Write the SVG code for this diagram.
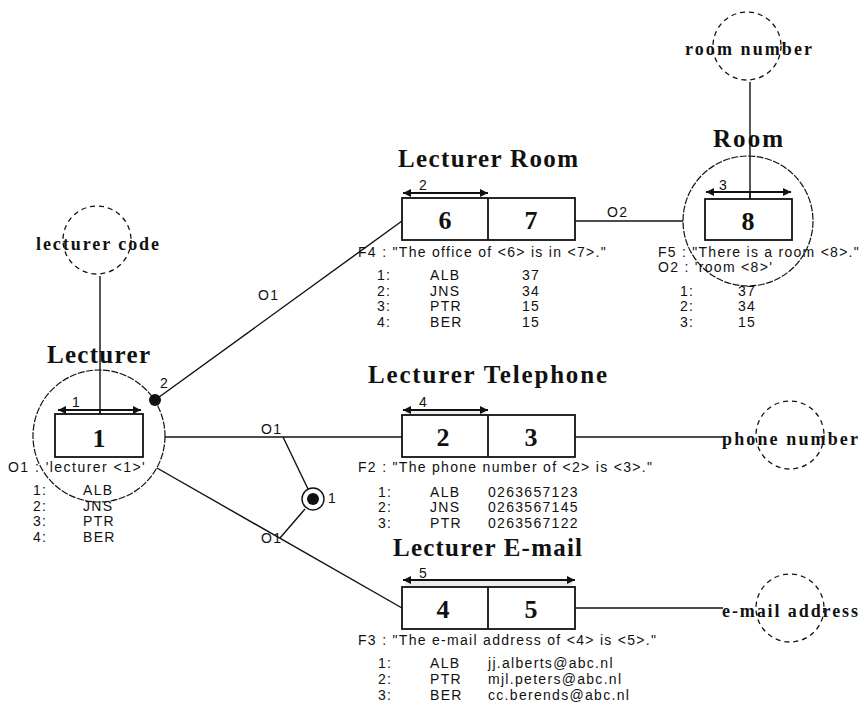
<svg xmlns="http://www.w3.org/2000/svg" width="863" height="705" viewBox="0 0 863 705">
<style>
.bg{fill:#ffffff}
.ln{stroke:#111;stroke-width:1.4;fill:none}
.box{fill:#fff;stroke:#111;stroke-width:1.8}
.obj{fill:none;stroke:#111;stroke-width:1.2;stroke-dasharray:7 1.5}
.val{fill:none;stroke:#111;stroke-width:1.3;stroke-dasharray:5 4}
.arr{stroke:#111;stroke-width:2;fill:none;marker-start:url(#ah);marker-end:url(#ah)}
.band{fill:#ececec}
.t{font-family:"Liberation Sans",Arial,sans-serif;font-size:14px;letter-spacing:1.3px;fill:#111}
.ttl{font-family:"Liberation Serif","Times New Roman",serif;font-size:25px;font-weight:bold;fill:#111}
.vl{font-family:"Liberation Serif","Times New Roman",serif;font-size:18px;font-weight:bold;fill:#111}
.num{font-family:"Liberation Serif","Times New Roman",serif;font-size:26px;font-weight:bold;fill:#111;text-anchor:middle}
</style>
<defs>
<marker id="ah" viewBox="0 0 8 8" refX="8" refY="4" markerWidth="8" markerHeight="8" markerUnits="userSpaceOnUse" orient="auto-start-reverse">
<path d="M0,0 L8,4 L0,8 z" fill="#111"/>
</marker>
</defs>
<rect class="bg" x="0" y="0" width="863" height="705"/>

<g id="connectors">
<line class="ln" x1="100" y1="276" x2="100" y2="414"/>
<line class="ln" x1="750" y1="82" x2="750" y2="199"/>
<line class="ln" x1="155" y1="400" x2="402" y2="221"/>
<line class="ln" x1="575" y1="221" x2="683" y2="221"/>
<line class="ln" x1="165" y1="437" x2="402" y2="437"/>
<line class="ln" x1="575" y1="437" x2="723" y2="437"/>
<line class="ln" x1="157" y1="468" x2="402" y2="608"/>
<line class="ln" x1="575" y1="608" x2="723" y2="608"/>
<line class="ln" x1="283" y1="437" x2="308" y2="489"/>
<line class="ln" x1="305" y1="509" x2="280" y2="538"/>
<text class="t" x="258" y="300">O1</text>
<text class="t" x="261" y="434">O1</text>
<text class="t" x="261" y="543">O1</text>
<text class="t" x="607" y="217">O2</text>
<circle cx="155" cy="400" r="6" fill="#111"/>
<text class="t" x="160" y="388">2</text>
<g id="uniq1">
<circle cx="313" cy="499" r="11" fill="#fff" stroke="#111" stroke-width="1.4"/>
<circle cx="313" cy="499" r="6" fill="#111"/>
<text class="t" x="328" y="503">1</text>
</g>
</g>

<g id="lecturer-code">
<circle class="val" cx="97" cy="240" r="34"/>
<text class="vl" x="36" y="250" textLength="123" lengthAdjust="spacing">lecturer code</text>
</g>

<g id="room-number">
<circle class="val" cx="747" cy="46" r="34"/>
<text class="vl" x="685" y="55" textLength="127" lengthAdjust="spacing">room number</text>
</g>

<g id="phone-number">
<circle class="val" cx="790" cy="435" r="34"/>
<text class="vl" x="722" y="445" textLength="136" lengthAdjust="spacing">phone number</text>
</g>

<g id="email-address">
<circle class="val" cx="790" cy="608" r="34"/>
<text class="vl" x="722" y="617" textLength="136" lengthAdjust="spacing">e-mail address</text>
</g>

<g id="lecturer">
<text class="ttl" x="47" y="363" textLength="103" lengthAdjust="spacing">Lecturer</text>
<circle class="obj" cx="99" cy="436" r="66"/>
<line class="arr" x1="58" y1="410" x2="141" y2="410"/>
<text class="t" x="72" y="407">1</text>
<rect class="box" x="55" y="414" width="88" height="43"/>
<line class="ln" x1="100" y1="410" x2="100" y2="414"/>
<text class="num" x="99" y="447">1</text>
<text class="t" x="8" y="472" textLength="138" lengthAdjust="spacing">O1 : 'lecturer &lt;1&gt;'</text>
<text class="t" x="33" y="495">1:</text><text class="t" x="83" y="495">ALB</text>
<text class="t" x="33" y="511">2:</text><text class="t" x="83" y="511">JNS</text>
<text class="t" x="33" y="526">3:</text><text class="t" x="83" y="526">PTR</text>
<text class="t" x="33" y="542">4:</text><text class="t" x="83" y="542">BER</text>
</g>

<g id="lecturer-room">
<text class="ttl" x="398" y="167" textLength="180" lengthAdjust="spacing">Lecturer Room</text>
<line class="arr" x1="403" y1="193" x2="488" y2="193"/>
<text class="t" x="419" y="190">2</text>
<rect class="box" x="402" y="198" width="173" height="42"/>
<line class="box" x1="488" y1="198" x2="488" y2="240"/>
<text class="num" x="445" y="229">6</text>
<text class="num" x="531" y="229">7</text>
<text class="t" x="358" y="257" textLength="249" lengthAdjust="spacing">F4 : "The office of &lt;6&gt; is in &lt;7&gt;."</text>
<text class="t" x="377" y="280">1:</text><text class="t" x="430" y="280">ALB</text><text class="t" x="522" y="280">37</text>
<text class="t" x="377" y="296">2:</text><text class="t" x="430" y="296">JNS</text><text class="t" x="522" y="296">34</text>
<text class="t" x="377" y="311">3:</text><text class="t" x="430" y="311">PTR</text><text class="t" x="522" y="311">15</text>
<text class="t" x="377" y="327">4:</text><text class="t" x="430" y="327">BER</text><text class="t" x="522" y="327">15</text>
</g>

<g id="room">
<text class="ttl" x="713" y="147" textLength="70" lengthAdjust="spacing">Room</text>
<circle class="obj" cx="748" cy="221" r="65"/>
<line class="arr" x1="706" y1="192" x2="791" y2="192"/>
<text class="t" x="719" y="190">3</text>
<rect class="box" x="705" y="199" width="87" height="41"/>
<line class="ln" x1="750" y1="192" x2="750" y2="199"/>
<text class="num" x="748" y="230">8</text>
<text class="t" x="658" y="257" textLength="202" lengthAdjust="spacing">F5 : "There is a room &lt;8&gt;."</text>
<text class="t" x="658" y="272">O2 : 'room &lt;8&gt;'</text>
<text class="t" x="680" y="296">1:</text><text class="t" x="738" y="296">37</text>
<text class="t" x="680" y="311">2:</text><text class="t" x="738" y="311">34</text>
<text class="t" x="680" y="327">3:</text><text class="t" x="738" y="327">15</text>
</g>

<g id="lecturer-telephone">
<text class="ttl" x="368" y="383" textLength="239" lengthAdjust="spacing">Lecturer Telephone</text>
<rect class="band" x="405" y="411" width="81" height="4"/>
<line class="arr" x1="403" y1="410" x2="488" y2="410"/>
<text class="t" x="419" y="407">4</text>
<rect class="box" x="402" y="415" width="173" height="42"/>
<line class="box" x1="488" y1="415" x2="488" y2="457"/>
<text class="num" x="443" y="446">2</text>
<text class="num" x="531" y="446">3</text>
<text class="t" x="358" y="472">F2 : "The phone number of &lt;2&gt; is &lt;3&gt;."</text>
<text class="t" x="378" y="497">1:</text><text class="t" x="430" y="497">ALB</text><text class="t" x="488" y="497">0263657123</text>
<text class="t" x="378" y="512">2:</text><text class="t" x="430" y="512">JNS</text><text class="t" x="488" y="512">0263567145</text>
<text class="t" x="378" y="528">3:</text><text class="t" x="430" y="528">PTR</text><text class="t" x="488" y="528">0263567122</text>
</g>

<g id="lecturer-email">
<text class="ttl" x="393" y="556" textLength="189" lengthAdjust="spacing">Lecturer E-mail</text>
<rect class="band" x="405" y="581" width="167" height="6"/>
<line class="arr" x1="403" y1="580" x2="575" y2="580"/>
<text class="t" x="419" y="578">5</text>
<rect class="box" x="402" y="587" width="173" height="42"/>
<line class="box" x1="488" y1="587" x2="488" y2="629"/>
<text class="num" x="443" y="618">4</text>
<text class="num" x="531" y="618">5</text>
<text class="t" x="358" y="645">F3 : "The e-mail address of &lt;4&gt; is &lt;5&gt;."</text>
<text class="t" x="378" y="668">1:</text><text class="t" x="430" y="668">ALB</text><text class="t" x="488" y="668">jj.alberts@abc.nl</text>
<text class="t" x="378" y="684">2:</text><text class="t" x="430" y="684">PTR</text><text class="t" x="488" y="684">mjl.peters@abc.nl</text>
<text class="t" x="378" y="700">3:</text><text class="t" x="430" y="700">BER</text><text class="t" x="488" y="700">cc.berends@abc.nl</text>
</g>
</svg>
